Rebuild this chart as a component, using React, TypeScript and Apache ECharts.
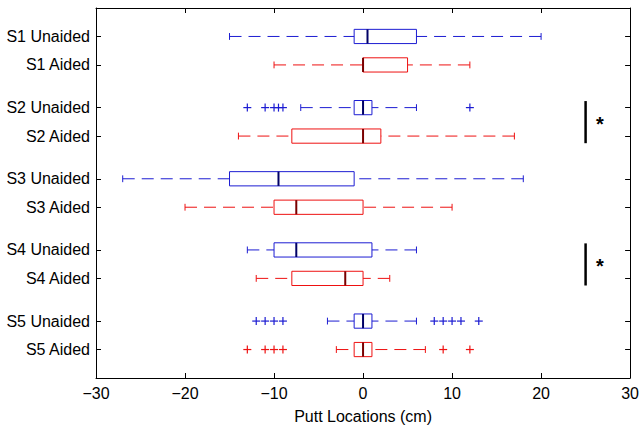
import React, { useEffect, useRef } from "react";
import * as echarts from "echarts";

const rowLabels = [
  "S1 Unaided", "S1 Aided",
  "S2 Unaided", "S2 Aided",
  "S3 Unaided", "S3 Aided",
  "S4 Unaided", "S4 Aided",
  "S5 Unaided", "S5 Aided",
];
const rowPositions = [1, 2, 3.5, 4.5, 6, 7, 8.5, 9.5, 11, 12];
const rowGroup = [0, 1, 0, 1, 0, 1, 0, 1, 0, 1]; // 0 = Unaided (blue), 1 = Aided (red)
const whiskerLow = [-15, -10, -7, -14, -27, -20, -13, -12, -4, -3];
const q1 = [-1, 0, -1, -8, -15, -10, -10, -8, -1, -1];
const median = [0.5, 0, 0, 0, -9.5, -7.5, -7.5, -2, 0, 0];
const q3 = [6, 5, 1, 2, -1, 0, 1, 0, 1, 1];
const whiskerHigh = [20, 12, 6, 17, 18, 10, 6, 3, 6, 7];
const outliers: number[][] = [
  [],
  [],
  [-13, -11, -10, -9.5, -9, 12],
  [],
  [],
  [],
  [],
  [],
  [-12, -11, -10, -9, 8, 9, 10, 11, 13],
  [-13, -11, -10, -9, 9, 12],
];
const sigRanges = [
  [3.27, 4.75],
  [8.27, 9.75],
];
const sigX = 25;
const starX = 26.6;
const xTicks = [-30, -20, -10, 0, 10, 20, 30];

const boxColors = ["#1c1cd2", "#ee1111"];
const medianColors = ["#000066", "#7a0000"];
const FONT = "'Liberation Sans', Arial, Helvetica, sans-serif";

export default function App() {
  const ref = useRef<HTMLDivElement>(null);
  useEffect(() => {
    const chart = echarts.init(ref.current!, null, { renderer: "svg" });

    const boxData = rowPositions.map((y, i) => [
      y, whiskerLow[i], q1[i], median[i], q3[i], whiskerHigh[i], rowGroup[i],
    ]);
    const outlierData: number[][] = [];
    outliers.forEach((arr, i) => {
      arr.forEach((v) => outlierData.push([v, rowPositions[i], rowGroup[i]]));
    });
    const sigData = sigRanges.map((r) => [sigX, r[0], r[1], starX]);

    const axisLineStyle = { show: true, onZero: false, lineStyle: { color: "#000", width: 1 } };

    const option: any = {
      animation: false,
      backgroundColor: "#ffffff",
      grid: { left: 96, top: 8, width: 536, height: 375, containLabel: false },
      xAxis: [
        {
          type: "value",
          min: xTicks[0],
          max: xTicks[xTicks.length - 1],
          interval: 10,
          position: "bottom",
          name: "Putt Locations (cm)",
          nameLocation: "middle",
          nameGap: 30,
          nameTextStyle: { color: "#000", fontSize: 16, fontFamily: FONT },
          axisLine: axisLineStyle,
          axisTick: { show: true, inside: true, length: 5, lineStyle: { color: "#000" } },
          axisLabel: {
            color: "#000",
            fontSize: 16,
            fontFamily: FONT,
            margin: 7,
            formatter: (v: number) => String(v).replace("-", "\u2212"),
          },
          splitLine: { show: false },
        },
        {
          type: "value",
          min: xTicks[0],
          max: xTicks[xTicks.length - 1],
          interval: 10,
          position: "top",
          axisLine: axisLineStyle,
          axisTick: { show: true, inside: true, length: 5, lineStyle: { color: "#000" } },
          axisLabel: { show: false },
          splitLine: { show: false },
        },
      ],
      yAxis: [
        {
          type: "value",
          min: 0,
          max: 13,
          inverse: true,
          position: "left",
          axisLine: axisLineStyle,
          axisTick: {
            show: true,
            inside: true,
            length: 5,
            customValues: rowPositions,
            lineStyle: { color: "#000" },
          },
          axisLabel: {
            color: "#000",
            fontSize: 16,
            fontFamily: FONT,
            margin: 6,
            customValues: rowPositions,
            formatter: (v: number) => {
              const idx = rowPositions.findIndex((p) => Math.abs(p - v) < 1e-6);
              return idx >= 0 ? rowLabels[idx] : "";
            },
          },
          splitLine: { show: false },
        },
        {
          type: "value",
          min: 0,
          max: 13,
          inverse: true,
          position: "right",
          axisLine: axisLineStyle,
          axisTick: {
            show: true,
            inside: true,
            length: 5,
            customValues: rowPositions,
            lineStyle: { color: "#000" },
          },
          axisLabel: { show: false },
          splitLine: { show: false },
        },
      ],
      series: [
        {
          type: "custom",
          name: "boxes",
          xAxisIndex: 0,
          yAxisIndex: 0,
          encode: { x: [1, 2, 3, 4, 5], y: 0 },
          data: boxData,
          renderItem: (params: any, api: any) => {
            const y = api.value(0);
            const lo = api.value(1);
            const a = api.value(2);
            const m = api.value(3);
            const b = api.value(4);
            const hi = api.value(5);
            const g = api.value(6);
            const unit = api.size([0, 1])[1];
            const half = unit * 0.25;
            const cap = unit * 0.12;
            const pLo = api.coord([lo, y]);
            const pA = api.coord([a, y]);
            const pM = api.coord([m, y]);
            const pB = api.coord([b, y]);
            const pHi = api.coord([hi, y]);
            const cy = pLo[1];
            const col = boxColors[g];
            const mcol = medianColors[g];
            return {
              type: "group",
              children: [
                {
                  type: "line",
                  shape: { x1: pLo[0], y1: cy, x2: pA[0], y2: cy },
                  style: { stroke: col, lineWidth: 1, lineDash: [12, 7] },
                },
                {
                  type: "line",
                  shape: { x1: pHi[0], y1: cy, x2: pB[0], y2: cy },
                  style: { stroke: col, lineWidth: 1, lineDash: [12, 7] },
                },
                {
                  type: "line",
                  shape: { x1: pLo[0], y1: cy - cap, x2: pLo[0], y2: cy + cap },
                  style: { stroke: col, lineWidth: 1 },
                },
                {
                  type: "line",
                  shape: { x1: pHi[0], y1: cy - cap, x2: pHi[0], y2: cy + cap },
                  style: { stroke: col, lineWidth: 1 },
                },
                {
                  type: "rect",
                  shape: { x: pA[0], y: cy - half, width: pB[0] - pA[0], height: half * 2 },
                  style: { fill: "none", stroke: col, lineWidth: 1 },
                },
                {
                  type: "line",
                  shape: { x1: pM[0], y1: cy - half, x2: pM[0], y2: cy + half },
                  style: { stroke: mcol, lineWidth: 2 },
                },
              ],
            };
          },
        },
        {
          type: "custom",
          name: "outliers",
          xAxisIndex: 0,
          yAxisIndex: 0,
          encode: { x: 0, y: 1 },
          data: outlierData,
          renderItem: (params: any, api: any) => {
            const p = api.coord([api.value(0), api.value(1)]);
            const col = boxColors[api.value(2)];
            const s = 4;
            return {
              type: "group",
              children: [
                {
                  type: "line",
                  shape: { x1: p[0] - s, y1: p[1], x2: p[0] + s, y2: p[1] },
                  style: { stroke: col, lineWidth: 1.2 },
                },
                {
                  type: "line",
                  shape: { x1: p[0], y1: p[1] - s, x2: p[0], y2: p[1] + s },
                  style: { stroke: col, lineWidth: 1.2 },
                },
              ],
            };
          },
        },
        {
          type: "custom",
          name: "significance",
          xAxisIndex: 0,
          yAxisIndex: 0,
          encode: { x: [0, 3], y: [1, 2] },
          data: sigData,
          renderItem: (params: any, api: any) => {
            const x = api.value(0);
            const p1 = api.coord([x, api.value(1)]);
            const p2 = api.coord([x, api.value(2)]);
            const ps = api.coord([api.value(3), (api.value(1) + api.value(2)) / 2]);
            return {
              type: "group",
              children: [
                {
                  type: "line",
                  shape: { x1: p1[0], y1: p1[1], x2: p2[0], y2: p2[1] },
                  style: { stroke: "#000", lineWidth: 2.5 },
                },
                {
                  type: "text",
                  x: ps[0],
                  y: ps[1] + 2,
                  style: {
                    text: "*",
                    fill: "#000",
                    font: `bold 20px ${FONT}`,
                    align: "center",
                    verticalAlign: "middle",
                  },
                },
              ],
            };
          },
        },
      ],
    };

    chart.setOption(option);
    return () => chart.dispose();
  }, []);

  return (
    <div
      ref={ref}
      style={{ position: "fixed", left: 0, top: 0, width: 642, height: 429 }}
    />
  );
}
